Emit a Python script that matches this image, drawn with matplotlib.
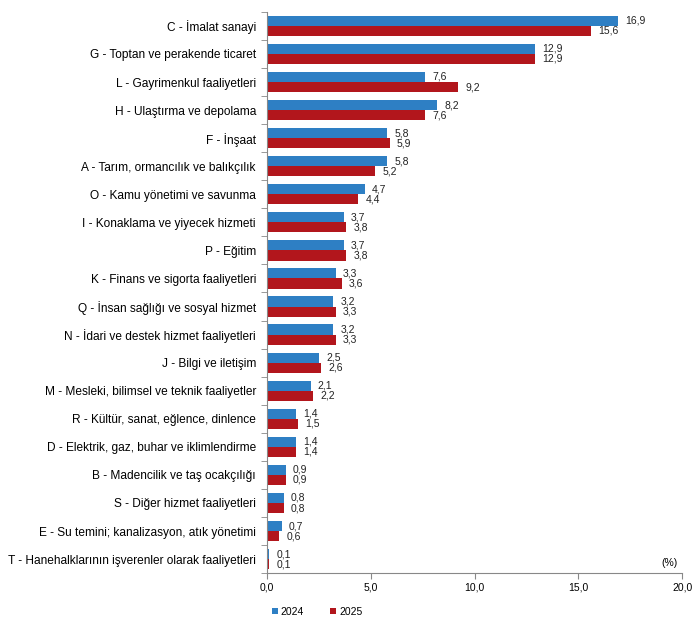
import matplotlib
matplotlib.use("Agg")
import matplotlib.pyplot as plt
import numpy as np

plt.rcParams['font.family'] = ['Liberation Sans', 'DejaVu Sans']

categories = [
    "C - İmalat sanayi",
    "G - Toptan ve perakende ticaret",
    "L - Gayrimenkul faaliyetleri",
    "H - Ulaştırma ve depolama",
    "F - İnşaat",
    "A - Tarım, ormancılık ve balıkçılık",
    "O - Kamu yönetimi ve savunma",
    "I - Konaklama ve yiyecek hizmeti",
    "P - Eğitim",
    "K - Finans ve sigorta faaliyetleri",
    "Q - İnsan sağlığı ve sosyal hizmet",
    "N - İdari ve destek hizmet faaliyetleri",
    "J - Bilgi ve iletişim",
    "M - Mesleki, bilimsel ve teknik faaliyetler",
    "R - Kültür, sanat, eğlence, dinlence",
    "D - Elektrik, gaz, buhar ve iklimlendirme",
    "B - Madencilik ve taş ocakçılığı",
    "S - Diğer hizmet faaliyetleri",
    "E - Su temini; kanalizasyon, atık yönetimi",
    "T - Hanehalklarının işverenler olarak faaliyetleri",
]
values_2024 = [16.9, 12.9, 7.6, 8.2, 5.8, 5.8, 4.7, 3.7, 3.7, 3.3, 3.2, 3.2, 2.5, 2.1, 1.4, 1.4, 0.9, 0.8, 0.7, 0.1]
values_2025 = [15.6, 12.9, 9.2, 7.6, 5.9, 5.2, 4.4, 3.8, 3.8, 3.6, 3.3, 3.3, 2.6, 2.2, 1.5, 1.4, 0.9, 0.8, 0.6, 0.1]
series_labels = ["2024", "2025"]
xticks = [0, 5, 10, 15, 20]

c24 = "#2E7FC4"
c25 = "#B2161C"

fig = plt.figure(figsize=(6.99, 6.23), dpi=100)
ax = fig.add_axes([0.382, 0.080, 0.594, 0.901])

n = len(categories)
y = np.arange(n)
h = 0.36
b1 = ax.barh(y - h/2, values_2024, height=h, color=c24, label=series_labels[0])
b2 = ax.barh(y + h/2, values_2025, height=h, color=c25, label=series_labels[1])

def fmt(v):
    return f"{v:.1f}".replace(".", ",")

for rect, v in zip(b1, values_2024):
    ax.text(v + 0.35, rect.get_y() + rect.get_height()/2, fmt(v), va="center", ha="left", fontsize=7.5, color="#222222")
for rect, v in zip(b2, values_2025):
    ax.text(v + 0.35, rect.get_y() + rect.get_height()/2, fmt(v), va="center", ha="left", fontsize=7.5, color="#222222")

ax.set_ylim(n - 0.5, -0.5)
ax.set_xlim(0, 20)
ax.set_yticks(y)
ax.set_yticklabels(categories, fontsize=8.6)
ax.tick_params(axis="y", length=0, pad=8)
ax.set_yticks(np.arange(-0.5, n, 1), minor=True)
ax.tick_params(axis="y", which="minor", length=4, color="#888888")
ax.set_xticks(xticks)
ax.set_xticklabels([fmt(t) for t in xticks], fontsize=7.5)
ax.tick_params(axis="x", length=4, color="#888888", pad=3)

for s in ["top", "right"]:
    ax.spines[s].set_visible(False)
for s in ["left", "bottom"]:
    ax.spines[s].set_color("#888888")
    ax.spines[s].set_linewidth(0.8)

ax.text(19.8, n - 0.85, "(%)", ha="right", va="center", fontsize=7.5)

fig.legend(handles=[b1, b2], labels=series_labels, loc="lower left",
           bbox_to_anchor=(0.375, -0.005), ncol=2, frameon=False, fontsize=7.5,
           handlelength=0.6, handleheight=0.6, handletextpad=0.3, columnspacing=2.5)

fig.savefig("out.png", dpi=100)
